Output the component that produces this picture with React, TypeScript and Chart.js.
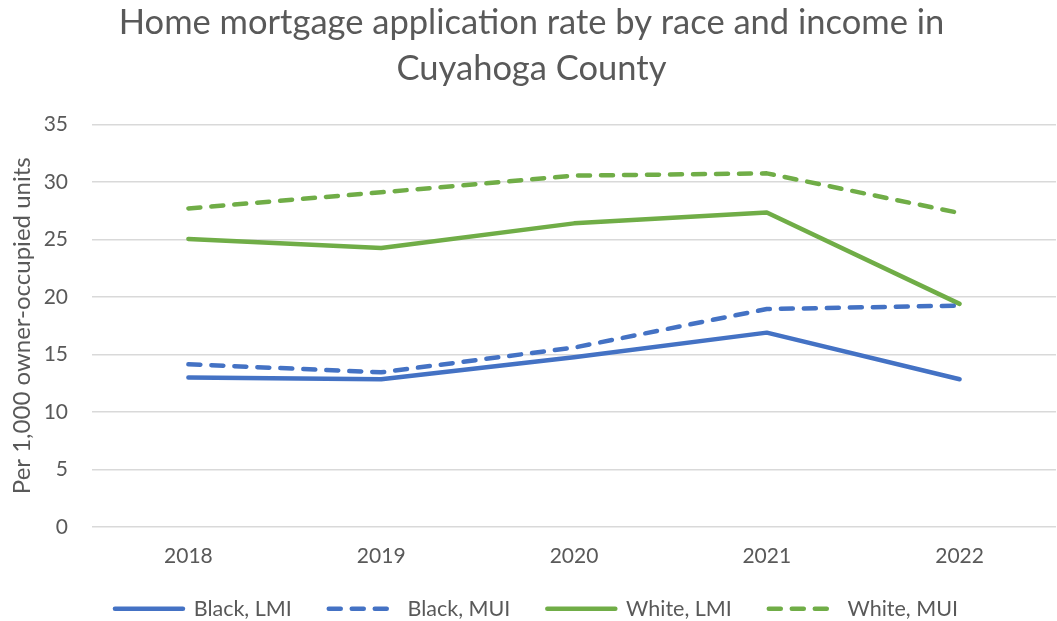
import React, { useEffect, useRef } from "react";
import { Chart, registerables } from "chart.js";

Chart.register(...registerables);

const years = ["2018", "2019", "2020", "2021", "2022"];
const blackLMI = [13.0, 12.85, 14.75, 16.9, 12.85];
const blackMUI = [14.15, 13.45, 15.6, 18.95, 19.25];
const whiteLMI = [25.05, 24.25, 26.4, 27.35, 19.4];
const whiteMUI = [27.7, 29.1, 30.55, 30.75, 27.3];
const titleLines = ["Home mortgage application rate by race and income in", "Cuyahoga County"];
const yTitle = "Per 1,000 owner-occupied units";

const BLUE = "#4472C4";
const GREEN = "#70AD47";
const TEXT = "#595959";
const FONT = "Lato, 'Open Sans', sans-serif";
const DASH = [12, 11];

const legendBox = {
  id: "legendBox",
  beforeInit(chart: any) {
    const legend = chart.legend;
    if (!legend) return;
    const origFit = legend.fit;
    legend.fit = function () {
      origFit.call(this);
      this.height = 51;
    };
    const origDraw = legend.draw;
    legend.draw = function () {
      this.left += 5;
      this.right += 5;
      origDraw.call(this);
      this.left -= 5;
      this.right -= 5;
    };
  },
};

export default function App() {
  const ref = useRef<HTMLCanvasElement>(null);
  useEffect(() => {
    if (!ref.current) return;
    const mk = (label: string, data: number[], color: string, dashed: boolean) => ({
      label,
      data,
      borderColor: color,
      backgroundColor: color,
      borderWidth: 4.5,
      borderDash: dashed ? DASH : [],
      borderCapStyle: "round" as const,
      borderJoinStyle: "round" as const,
      pointRadius: 0,
      tension: 0,
      fill: false,
    });
    const chart = new Chart(ref.current, {
      type: "line",
      plugins: [legendBox],
      data: {
        labels: years,
        datasets: [
          mk("Black, LMI", blackLMI, BLUE, false),
          mk("Black, MUI", blackMUI, BLUE, true),
          mk("White, LMI", whiteLMI, GREEN, false),
          mk("White, MUI", whiteMUI, GREEN, true),
        ],
      },
      options: {
        animation: false,
        responsive: true,
        maintainAspectRatio: false,
        layout: { padding: { left: 7, right: 1, top: 0, bottom: 2 } },
        plugins: {
          title: {
            display: true,
            text: titleLines,
            color: TEXT,
            font: { family: FONT, size: 34.5, weight: "normal", lineHeight: 1.34 },
            padding: { top: 0, bottom: 32 },
          },
          legend: {
            position: "bottom",
            title: { display: true, text: "", font: { size: 1, lineHeight: 1 }, padding: { top: -8, bottom: 0 } },
            labels: {
              color: TEXT,
              font: { family: FONT, size: 21.5 },
              usePointStyle: true,
              pointStyle: "line",
              pointStyleWidth: 68,
              boxHeight: 21,
              padding: 37,
              generateLabels: (c: any) => {
                const items = Chart.defaults.plugins.legend.labels.generateLabels(c);
                return items.map((it: any, i: number) => {
                  const ds: any = c.data.datasets[i];
                  return {
                    ...it,
                    lineDash: ds.borderDash,
                    lineCap: "round",
                    lineWidth: 4.5,
                    strokeStyle: ds.borderColor,
                    fillStyle: ds.borderColor,
                  };
                });
              },
            },
          },
          tooltip: { enabled: false },
        },
        scales: {
          x: {
            offset: true,
            grid: { display: false, drawTicks: false },
            border: { display: false },
            ticks: { color: TEXT, font: { family: FONT, size: 21 }, padding: 17 },
            afterFit: (s: any) => {
              s.height = 41;
            },
          },
          y: {
            min: 0,
            max: 35,
            ticks: { stepSize: 5, color: TEXT, font: { family: FONT, size: 21 }, padding: 24 },
            grid: { color: "#D9D9D9", lineWidth: 1.5, drawTicks: false },
            border: { display: false },
            title: {
              display: true,
              text: yTitle,
              color: TEXT,
              font: { family: FONT, size: 24 },
              padding: { top: 1, bottom: 8 },
            },
            afterFit: (s: any) => {
              s.width = 85;
            },
          },
        },
      },
    });
    return () => chart.destroy();
  }, []);
  return (
    <div style={{ position: "absolute", left: 0, top: 0, width: 1057, height: 621, background: "#fff" }}>
      <canvas ref={ref} />
    </div>
  );
}
